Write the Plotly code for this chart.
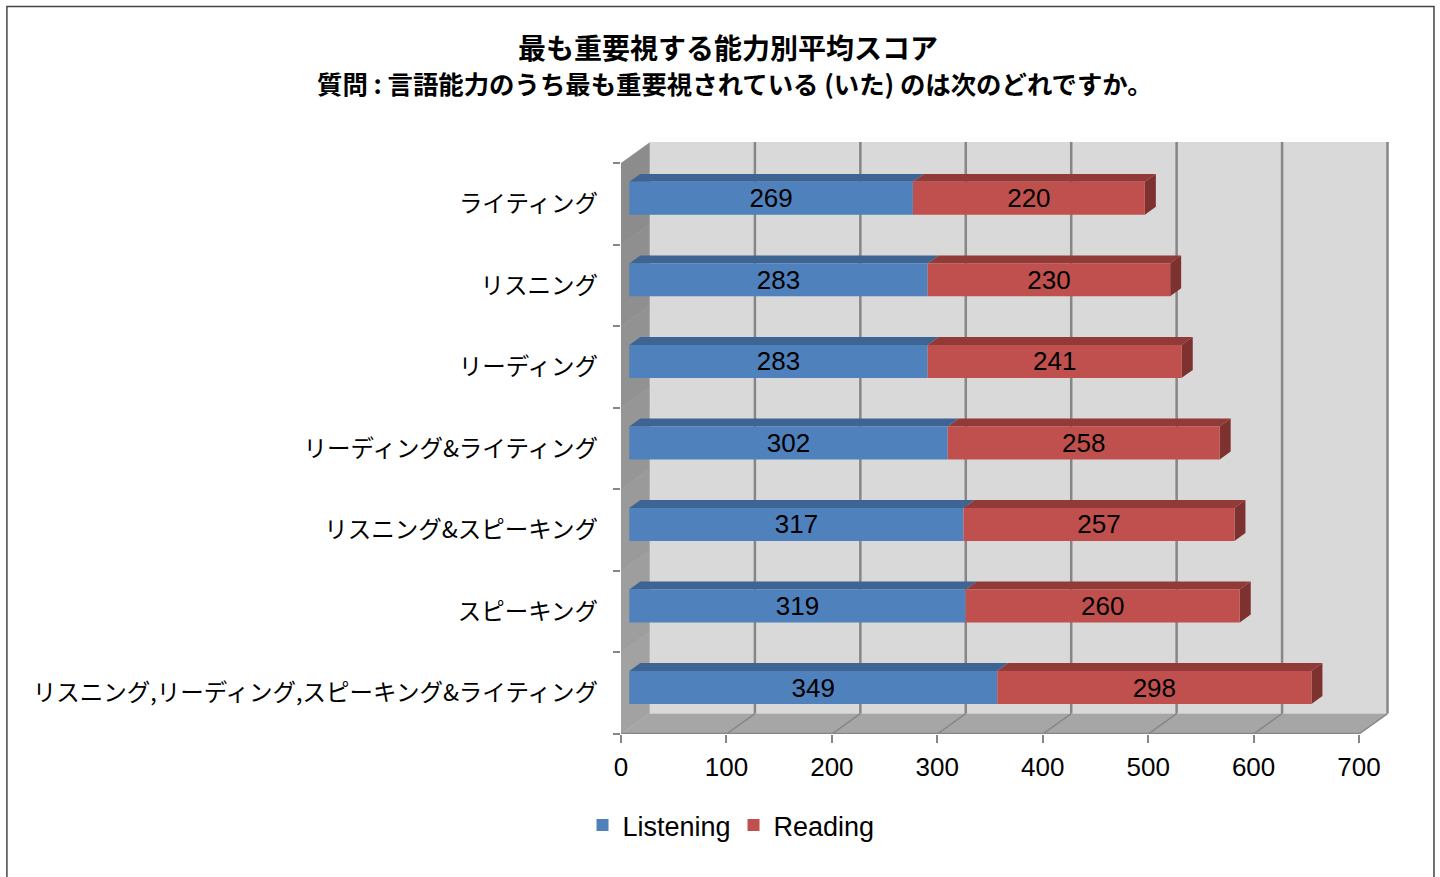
import plotly.graph_objects as go

categories = [
    "リスニング,リーディング,スピーキング&ライティング",
    "スピーキング",
    "リスニング&スピーキング",
    "リーディング&ライティング",
    "リーディング",
    "リスニング",
    "ライティング",
]
listening = [349, 319, 317, 302, 283, 283, 269]
reading = [298, 260, 257, 258, 241, 230, 220]
x_ticks = [0, 100, 200, 300, 400, 500, 600, 700]
title_main = "最も重要視する能力別平均スコア"
title_sub = "質問 : 言語能力のうち最も重要視されている (いた) のは次のどれですか。"

W, H = 1440, 877
L, R, T, B = 620.5, 50, 142, 142.5
PX_X = 738.5 / 700
PX_Y = 81.6
plot_w = W - L - R
plot_h = H - T - B
x_max = plot_w / PX_X
y_bot = -0.5
y_top = y_bot + plot_h / PX_Y

WALL_DX = 28.5 / PX_X
WALL_DY = 20.5 / PX_Y
BAR_GAP_X = 8.3 / PX_X
BAR_H = 33 / PX_Y
BAR_SHIFT = 0.07
DEPTH_X = 11 / PX_X
DEPTH_Y = 8 / PX_Y

GRID = "#868686"
BLUE, RED = "#4f81bd", "#c0504d"
BLUE_TOP, RED_TOP, RED_SIDE = "#3e6493", "#913a38", "#7d3230"
LEFT_WALL_SHADES = ["#a2a2a2", "#9e9e9e", "#9a9a9a", "#969696", "#929292", "#8f8f8f", "#8c8c8c"]


def poly(pts, fill, line=None, width=0):
    path = "M" + " L".join(f"{x:.3f},{y:.3f}" for x, y in pts) + " Z"
    return dict(type="path", path=path, xref="x", yref="y", fillcolor=fill,
                line=dict(color=line or fill, width=width), layer="below")


def seg(x0, y0, x1, y1, width):
    return dict(type="line", x0=x0, y0=y0, x1=x1, y1=y1, xref="x", yref="y",
                line=dict(color=GRID, width=width), layer="below")


back_bot = y_bot + WALL_DY
back_top = y_top
front_top = back_top - WALL_DY
shapes = [
    poly([(WALL_DX, back_bot), (700 + WALL_DX, back_bot), (700 + WALL_DX, back_top), (WALL_DX, back_top)], "#d9d9d9"),
    poly([(0, y_bot), (700, y_bot), (700 + WALL_DX, back_bot), (WALL_DX, back_bot)], "#a6a6a6"),
]
for i, shade in enumerate(LEFT_WALL_SHADES):
    y0 = y_bot + i
    y1 = y0 + 1
    shapes.append(poly([(0, y0), (WALL_DX, y0 + WALL_DY), (WALL_DX, y1 + WALL_DY), (0, y1)], shade, line=shade, width=0.5))
for t in x_ticks[1:]:
    shapes.append(seg(t + WALL_DX, back_bot, t + WALL_DX, back_top, 2.5))
    shapes.append(seg(t, y_bot, t + WALL_DX, back_bot, 1.5))
shapes.append(seg(0, y_bot, 700, y_bot, 2.5))

for i, (a, b) in enumerate(zip(listening, reading)):
    low = i + BAR_SHIFT - BAR_H / 2
    high = low + BAR_H
    x0 = BAR_GAP_X
    x1 = x0 + a
    x2 = x1 + b
    shapes.append(poly([(x0, high), (x1, high), (x1 + DEPTH_X, high + DEPTH_Y), (x0 + DEPTH_X, high + DEPTH_Y)], BLUE_TOP))
    shapes.append(poly([(x1, high), (x2, high), (x2 + DEPTH_X, high + DEPTH_Y), (x1 + DEPTH_X, high + DEPTH_Y)], RED_TOP))
    shapes.append(poly([(x2, low), (x2 + DEPTH_X, low + DEPTH_Y), (x2 + DEPTH_X, high + DEPTH_Y), (x2, high)], RED_SIDE))

# chart frame (paper coordinates are relative to the plot area)
px = lambda v: (v - L) / plot_w
py = lambda v: 1 - (v - T) / plot_h
shapes.append(dict(type="rect", xref="paper", yref="paper", x0=px(6), x1=px(1434), y0=py(900), y1=py(6.5),
                   line=dict(color="#444444", width=1.5), layer="below"))

LATIN = "Liberation Sans, Noto Sans CJK JP"
FONT = dict(family=LATIN, size=26, color="#000000")

fig = go.Figure()
for name, vals, base, color in [
    ("Listening", listening, [BAR_GAP_X] * len(listening), BLUE),
    ("Reading", reading, [BAR_GAP_X + v for v in listening], RED),
]:
    fig.add_trace(go.Bar(
        name=name, orientation="h", y=categories, x=vals, base=base,
        width=BAR_H, offset=BAR_SHIFT - BAR_H / 2,
        marker=dict(color=color, line=dict(width=0)),
        text=[str(v) for v in vals], textposition="inside", insidetextanchor="middle",
        textangle=0, constraintext="none", insidetextfont=FONT, hoverinfo="skip",
    ))

fig.update_layout(
    width=W, height=H, autosize=False, barmode="overlay",
    margin=dict(l=L, r=R, t=T, b=B, pad=0),
    paper_bgcolor="white", plot_bgcolor="rgba(0,0,0,0)",
    font=FONT, shapes=shapes,
    title=dict(text=title_main, x=728 / W, xanchor="center", y=1 - 49 / H, yanchor="middle",
               font=dict(family="Noto Sans CJK JP", size=28, color="#000000", weight=700)),
    annotations=[dict(text=f"<b>{title_sub}</b>", xref="paper", yref="paper", x=px(735), y=py(83),
                      xanchor="center", yanchor="middle", showarrow=False,
                      font=dict(family="Noto Sans CJK JP", size=25.4, color="#000000"))],
    xaxis=dict(range=[0, x_max], tickvals=x_ticks, showgrid=False, zeroline=False, showline=False,
               ticks="outside", ticklen=8, tickwidth=2, tickcolor=GRID, ticklabelstandoff=2,
               tickfont=FONT),
    yaxis=dict(type="category", categoryorder="array", categoryarray=categories, range=[y_bot, y_top],
               tickson="boundaries", showgrid=False, zeroline=False, showline=False,
               ticks="outside", ticklen=7, tickwidth=2, tickcolor=GRID, ticklabelstandoff=22,
               tickfont=dict(family="Noto Sans CJK JP", size=23.5, color="#000000")),
    legend=dict(orientation="h", x=px(582), y=py(826), xanchor="left", yanchor="middle",
                font=dict(family=LATIN, size=27, color="#000000"),
                entrywidth=106, entrywidthmode="pixels", traceorder="normal",
                bgcolor="rgba(0,0,0,0)"),
)

fig.write_html("out.html", config={"displayModeBar": False},
               post_script="document.body.style.margin='0';window.dispatchEvent(new Event('resize'));")
